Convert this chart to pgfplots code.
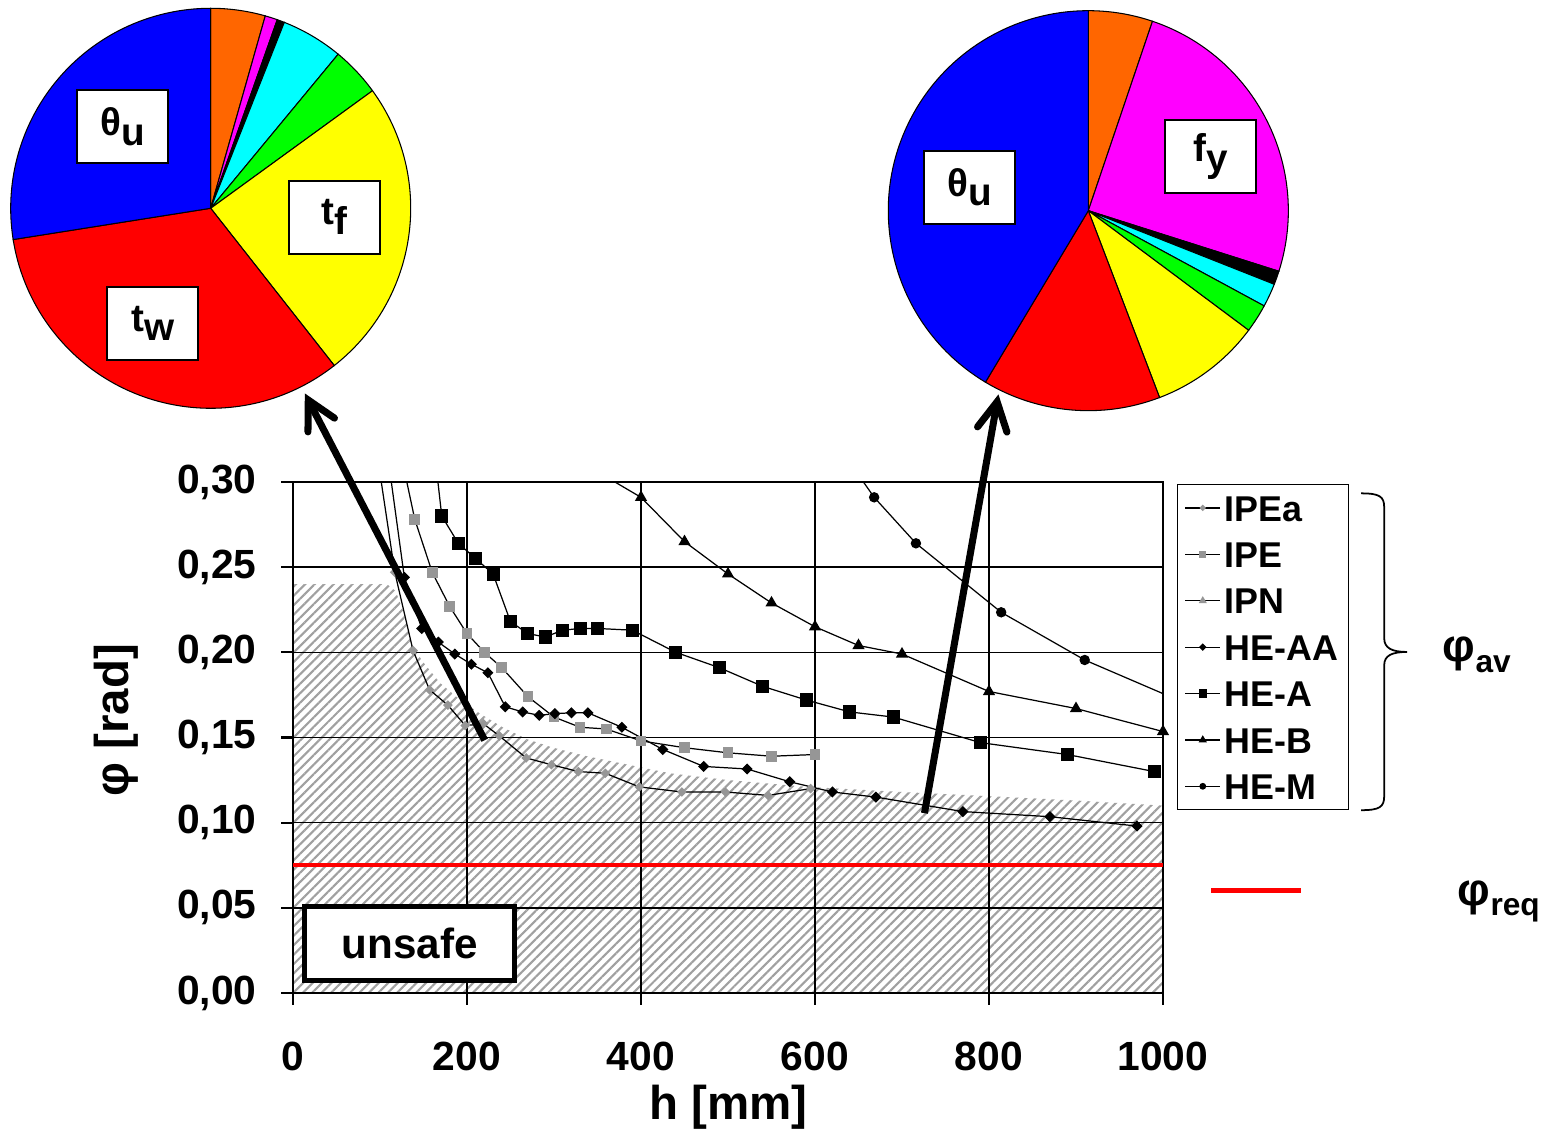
\documentclass[border=0pt]{standalone}
\usepackage{fontspec}
\setmainfont{Liberation Sans}
\usepackage{pgfplots}
\pgfplotsset{compat=1.18}
\usetikzlibrary{patterns.meta,arrows.meta}
\definecolor{pOrange}{RGB}{255,102,0}
\definecolor{pMagenta}{RGB}{255,0,255}
\definecolor{pCyan}{RGB}{0,255,255}
\definecolor{pGreen}{RGB}{0,255,0}
\definecolor{pYellow}{RGB}{255,255,0}
\definecolor{pRed}{RGB}{255,0,0}
\definecolor{pBlue}{RGB}{0,0,255}
\definecolor{mgray}{RGB}{150,150,150}
\definecolor{hgray}{RGB}{160,160,160}
% pie slice: cumulative start %, cumulative end %, colour (clockwise from 12 o'clock)
\newcommand\slice[3]{%
  \filldraw[fill=#3, draw=black, line width=0.3pt] (axis cs:0,0) -- ++({90-3.6*#1}:2cm)
    arc[start angle={90-3.6*#1}, end angle={90-3.6*#2}, radius=2cm] -- cycle;}
\newcommand\lab[2]{#1\raisebox{-2.8pt}{#2}}
\newcommand\labfont{\bfseries\fontsize{11}{13}\selectfont}
\begin{document}
\begin{tikzpicture}

% ---------- left pie ----------
\begin{axis}[at={(2.107cm,9.267cm)}, anchor=center, hide axis, scale only axis,
  width=4cm, height=4cm, xmin=-1, xmax=1, ymin=-1, ymax=1, clip=false]
  \slice{0}{4.4}{pOrange}
  \slice{4.4}{5.4}{pMagenta}
  \slice{5.4}{6.0}{black}
  \slice{6.0}{11.0}{pCyan}
  \slice{11.0}{15.0}{pGreen}
  \slice{15.0}{39.4}{pYellow}
  \slice{39.4}{72.5}{pRed}
  \slice{72.5}{100}{pBlue}
\end{axis}

% ---------- right pie ----------
\begin{axis}[at={(10.883cm,9.243cm)}, anchor=center, hide axis, scale only axis,
  width=4cm, height=4cm, xmin=-1, xmax=1, ymin=-1, ymax=1, clip=false]
  \slice{0}{5.2}{pOrange}
  \slice{5.2}{29.9}{pMagenta}
  \slice{29.9}{31.0}{black}
  \slice{31.0}{32.9}{pCyan}
  \slice{32.9}{35.2}{pGreen}
  \slice{35.2}{44.2}{pYellow}
  \slice{44.2}{58.6}{pRed}
  \slice{58.6}{100}{pBlue}
\end{axis}

% ---------- main chart ----------
\begin{axis}[set layers, at={(2.93cm,1.42cm)}, anchor=south west, scale only axis,
  width=8.7cm, height=5.11cm,
  xmin=0, xmax=1000, ymin=0, ymax=0.3,
  xtick={0,200,400,600,800,1000},
  ytick={0,0.05,0.1,0.15,0.2,0.25,0.3},
  xtick pos=left, ytick pos=left,
  grid=major, major grid style={black, line width=0.4pt},
  axis line style={black, line width=0.6pt},
  tick align=outside, major tick length=0.12cm,
  tick style={black, line width=0.6pt},
  /pgf/number format/assume math mode=true,
  ticklabel style={font=\bfseries\fontsize{11.6}{14}\selectfont},
  scaled y ticks=false, scaled x ticks=false,
  yticklabel style={/pgf/number format/.cd, fixed, fixed zerofill, precision=2, use comma},
  xticklabel style={/pgf/number format/.cd, fixed, 1000 sep={}},
  xticklabel shift=0.25cm, yticklabel shift=0.12cm,
  legend style={at={(1.016,0.996)}, anchor=north west, draw=black, line width=0.4pt,
    font=\bfseries\fontsize{10.2}{12}\selectfont, row sep=0pt,
    inner xsep=2pt, inner ysep=0pt,
    nodes={text height=8pt, text depth=0.5pt, inner ysep=2.35pt, inner xsep=1pt}},
  legend cell align=left,
  legend image code/.code={\draw[mark repeat=2,mark phase=2] plot coordinates {(0cm,0cm) (0.175cm,0cm) (0.35cm,0cm)};},
  legend image post style={/tikz/every mark/.append style={scale=0.6}},
]
% unsafe region (below the grid)
\addplot[forget plot, on layer=axis background, draw=none,
  pattern={Lines[angle=45,distance=1.9pt,line width=0.6pt]},
  pattern color=hgray] coordinates {
  (0,0.240) (108,0.240) (118,0.236) (126,0.225) (132,0.214) (138,0.203) (150,0.194)
  (169,0.182) (190,0.173) (215,0.164) (241,0.156) (269,0.149) (299,0.144)
  (338,0.139) (395,0.133) (433,0.129) (500,0.125) (591,0.121) (700,0.118)
  (782,0.116) (900,0.113) (1000,0.110)} \closedcycle;
% IPEa
\addplot[black, line width=0.35pt, mark=square*, mark size=0.8pt,
  mark options={rotate=45, fill=mgray, draw=mgray}] coordinates {
  (100,0.305) (117,0.247) (138,0.201) (157,0.178) (178,0.169) (198,0.157)
  (219,0.158) (237,0.151) (268,0.138) (297,0.134) (328,0.130) (359,0.129)
  (398,0.121) (447,0.118) (497,0.118) (546,0.116) (595,0.120)};
\addlegendentry{IPEa}
% IPE
\addplot[black, line width=0.35pt, mark=square*, mark size=1.35pt,
  mark options={fill=mgray, draw=mgray}] coordinates {
  (120,0.326) (140,0.278) (160,0.247) (180,0.227) (200,0.211) (220,0.200)
  (240,0.191) (270,0.174) (300,0.162) (330,0.156) (360,0.155) (400,0.148)
  (450,0.144) (500,0.141) (550,0.139) (600,0.140)};
\addlegendentry{IPE}
% IPN (outside the plotted range)
\addlegendimage{black, line width=0.35pt, mark=triangle*, mark size=1.6pt, mark options={fill=mgray, draw=mgray}}
\addlegendentry{IPN}
% HE-AA
\addplot[black, line width=0.35pt, mark=square*, mark size=0.95pt,
  mark options={rotate=45, fill=black}] coordinates {
  (109,0.315) (128,0.244) (148,0.214) (167,0.206) (186,0.199) (205,0.193)
  (224,0.188) (244,0.168) (264,0.165) (283,0.163) (301,0.164) (320,0.1645)
  (339,0.1645) (378,0.156) (425,0.143) (472,0.133) (522,0.1315) (571,0.124)
  (620,0.118) (670,0.115) (770,0.1065) (870,0.1035) (970,0.098)};
\addlegendentry{HE-AA}
% HE-A
\addplot[black, line width=0.35pt, mark=square*, mark size=1.7pt] coordinates {
  (152,0.366) (171,0.280) (190,0.264) (210,0.255) (230,0.246) (250,0.218)
  (270,0.211) (290,0.209) (310,0.213) (330,0.214) (350,0.214) (390,0.213)
  (440,0.200) (490,0.191) (540,0.180) (590,0.172) (640,0.165) (690,0.162)
  (790,0.147) (890,0.140) (990,0.130)};
\addlegendentry{HE-A}
% HE-B
\addplot[black, line width=0.35pt, mark=triangle*, mark size=1.65pt] coordinates {
  (360,0.303) (400,0.291) (450,0.265) (500,0.246) (550,0.229) (600,0.215)
  (650,0.204) (700,0.199) (800,0.177) (900,0.167) (1000,0.1535)};
\addlegendentry{HE-B}
% HE-M
\addplot[black, line width=0.35pt, mark=*, mark size=1.3pt] coordinates {
  (620,0.326) (668,0.291) (716,0.264) (814,0.2235) (910,0.1955) (1008,0.174)};
\addlegendentry{HE-M}
% required rotation
\addplot[forget plot, pRed, line width=1.1pt] coordinates {(0,0.075) (1000,0.075)};
\end{axis}

\begin{scope}[x=0.01cm,y=0.01cm]
% pie labels
\tikzset{plab/.style={draw=black, line width=0.6pt, fill=white, minimum width=0.91cm,
  minimum height=0.73cm, inner sep=0pt, font=\labfont}}
\node[plab] at (123,1008.7) {\lab{θ}{u}};
\node[plab] at (334.3,918.3) {\lab{t}{f}};
\node[plab] at (152.8,812) {\lab{t}{w}};
\node[plab] at (970,948.3) {\lab{θ}{u}};
\node[plab] at (1211.5,979.2) {\lab{f}{y}};

% unsafe label
\node[draw=black, line width=1.3pt, fill=white, minimum width=2.1cm, minimum height=0.74cm,
  font=\bfseries\fontsize{12}{14}\selectfont] at (410,191.5) {unsafe};

% axis labels
\node[anchor=base, font=\bfseries\fontsize{13.5}{16}\selectfont, inner sep=0pt] at (729,15) {h [mm]};
\node[rotate=90, font=\bfseries\fontsize{13.5}{16}\selectfont, inner sep=0pt] at (116,415) {φ [rad]};

% arrows
\draw[line width=2pt, -{Straight Barb[length=8pt,width=8.5pt,line cap=round]}] (485,395) -- (305,742);
\draw[line width=2pt, -{Straight Barb[length=8pt,width=8.5pt,line cap=round]}] (925,322) -- (999,741);

% brace
\draw[line width=0.5pt] (1362,642) .. controls (1380,642) and (1385,639) .. (1385,628)
  -- (1385,497) .. controls (1385,487) and (1393,483.3) .. (1408,483.3)
  .. controls (1393,483.3) and (1385,480) .. (1385,470)
  -- (1385,339) .. controls (1385,328) and (1380,325) .. (1362,325);
% phi labels
\node[anchor=base west, inner sep=0pt, font=\bfseries\fontsize{9}{11}\selectfont] at (1443,473.3) {{\fontsize{13}{15}\selectfont φ}\raisebox{-3pt}{av}};
\draw[pRed, line width=1.4pt] (1212,245) -- (1302,245);
\node[anchor=base west, inner sep=0pt, font=\bfseries\fontsize{9}{11}\selectfont] at (1458,230) {{\fontsize{13}{15}\selectfont φ}\raisebox{-3pt}{req}};
\end{scope}

\pgfresetboundingbox
\path (0,0) rectangle (15.44,11.35);
\end{tikzpicture}
\end{document}
